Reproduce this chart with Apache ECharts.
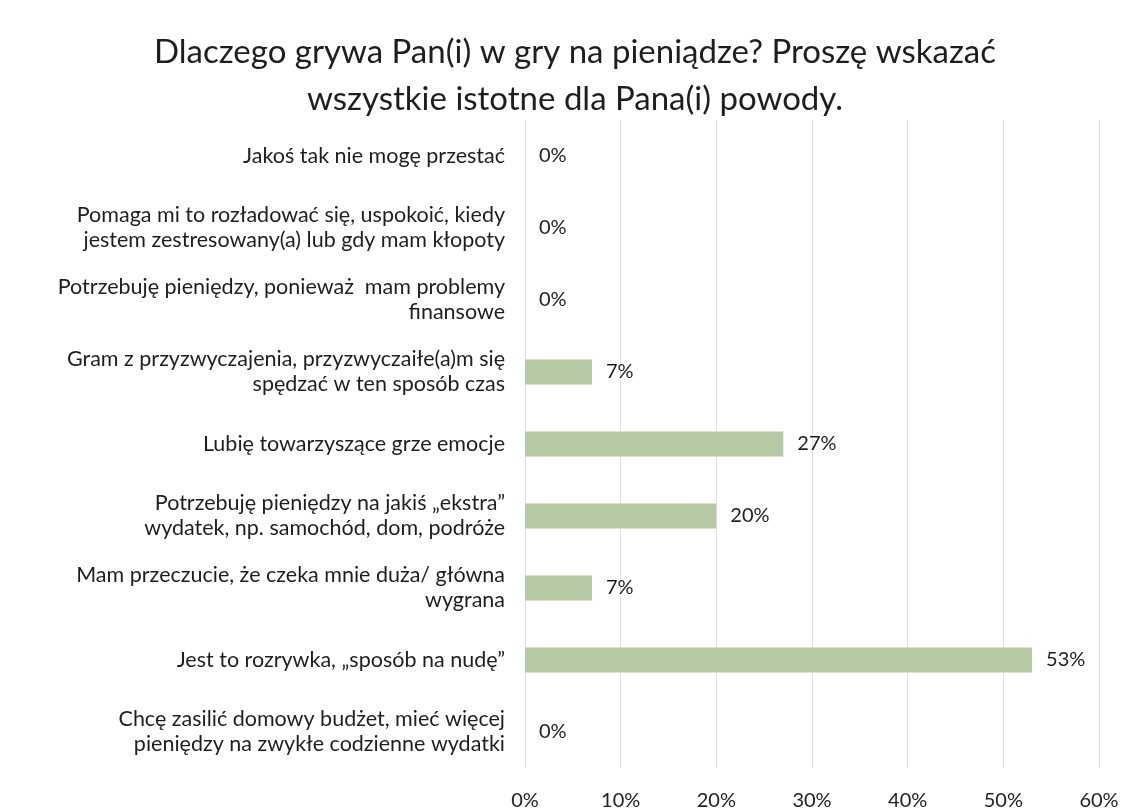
<!DOCTYPE html>
<html>
<head>
<meta charset="utf-8">
<script src="https://cdn.jsdelivr.net/npm/echarts@6/dist/echarts.min.js"></script>
<style>
  html, body { margin: 0; padding: 0; background: #fff; }
  #chart { width: 1137px; height: 811px; }
</style>
</head>
<body>
<div id="chart"></div>
<script>
const titleText = 'Dlaczego grywa Pan(i) w gry na pieniądze? Proszę wskazać\nwszystkie istotne dla Pana(i) powody.'

const categories = [
    'Jakoś tak nie mogę przestać',
    'Pomaga mi to rozładować się, uspokoić, kiedy\njestem zestresowany(a) lub gdy mam kłopoty',
    'Potrzebuję pieniędzy, ponieważ  mam problemy\nfinansowe',
    'Gram z przyzwyczajenia, przyzwyczaiłe(a)m się\nspędzać w ten sposób czas',
    'Lubię towarzyszące grze emocje',
    'Potrzebuję pieniędzy na jakiś „ekstra”\nwydatek, np. samochód, dom, podróże',
    'Mam przeczucie, że czeka mnie duża/ główna\nwygrana',
    'Jest to rozrywka, „sposób na nudę”',
    'Chcę zasilić domowy budżet, mieć więcej\npieniędzy na zwykłe codzienne wydatki'
]

const percentages = [0, 0, 0, 7, 27, 20, 7, 53, 0]

const font = 'Lato, "Open Sans", sans-serif'

const chart = echarts.init(document.getElementById('chart'))
chart.setOption({
    animation: false,
    title: {
        text: titleText,
        left: 570,
        textAlign: 'center',
        top: 24,
        textStyle: {
            fontFamily: font,
            fontWeight: 'normal',
            fontSize: 33,
            lineHeight: 47,
            color: '#1e1e1e'
        }
    },
    grid: {
        left: 525,
        right: 38,
        top: 120,
        bottom: 43
    },
    xAxis: {
        type: 'value',
        min: 0,
        max: 60,
        interval: 10,
        axisLine: { show: false },
        axisTick: { show: false },
        axisLabel: {
            formatter: '{value}%',
            margin: 23,
            fontFamily: font,
            fontSize: 20,
            color: '#222'
        },
        splitLine: { lineStyle: { color: '#e2e2e2', width: 1 } }
    },
    yAxis: {
        type: 'category',
        data: categories,
        inverse: true,
        axisLine: { show: false },
        axisTick: { show: false },
        axisLabel: {
            margin: 20,
            fontFamily: font,
            fontSize: 21.5,
            lineHeight: 25,
            color: '#1e1e1e',
            align: 'right'
        }
    },
    series: [
        {
            type: 'bar',
            data: percentages,
            barWidth: 25,
            itemStyle: { color: '#b5caa4' },
            label: {
                show: true,
                position: 'right',
                distance: 14,
                formatter: '{c}%',
                fontFamily: font,
                fontSize: 20,
                color: '#1e1e1e'
            }
        }
    ]
})
</script>
</body>
</html>
